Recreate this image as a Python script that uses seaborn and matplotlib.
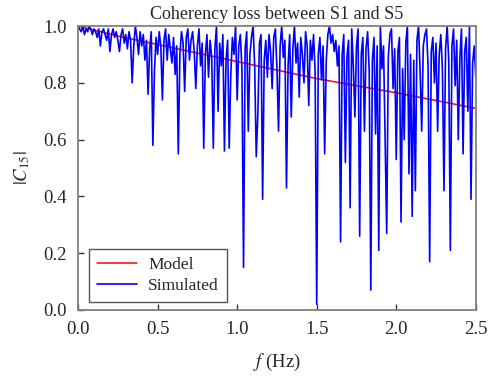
import numpy as np
import pandas as pd
import matplotlib
matplotlib.use("Agg")
import matplotlib.pyplot as plt
import seaborn as sns

# model coherency, read every 0.25 Hz
model_f = [0.0, 0.25, 0.5, 0.75, 1.0, 1.25, 1.5, 1.75, 2.0, 2.25, 2.5]
model_c = [1.0, 0.965, 0.935, 0.905, 0.875, 0.845, 0.815, 0.79, 0.765, 0.738, 0.71]

# simulated coherency, read every 0.01 Hz from 0 to 2.5 Hz
sim_c = [
    1.00, 0.99, 0.98, 1.00, 0.97, 0.99, 0.98, 1.00, 0.99, 0.97,
    0.99, 0.98, 0.96, 0.99, 0.93, 0.98, 0.99, 0.97, 0.95, 0.99,
    0.91, 0.97, 0.99, 0.96, 0.98, 0.95, 0.91, 0.97, 0.99, 0.94,
    0.97, 0.92, 0.98, 0.95, 0.80, 0.93, 1.00, 0.96, 0.90, 0.98,
    0.93, 0.97, 0.88, 0.95, 0.76, 0.92, 0.98, 0.58, 0.84, 0.96,
    0.90, 0.98, 0.93, 0.74, 0.95, 0.99, 0.88, 0.97, 0.92, 0.87,
    0.96, 0.83, 0.93, 0.55, 0.90, 0.98, 0.94, 0.77, 0.96, 0.99,
    0.88, 0.95, 0.98, 0.91, 0.78, 0.93, 0.99, 0.86, 0.94, 0.57,
    0.90, 0.97, 0.82, 0.95, 0.89, 0.57, 0.92, 1.00, 0.70, 0.94,
    0.86, 0.97, 0.56, 0.88, 0.95, 0.57, 0.83, 0.96, 0.90, 1.00,
    0.74, 0.93, 0.97, 0.85, 0.15, 0.92, 0.98, 0.63, 0.90, 0.96,
    1.00, 0.86, 0.54, 0.69, 0.94, 0.97, 0.39, 0.88, 0.95, 0.82,
    0.97, 0.91, 0.78, 0.96, 0.99, 0.85, 0.63, 0.93, 1.00, 0.89,
    0.95, 0.43, 0.86, 0.97, 0.68, 0.92, 1.00, 0.87, 0.94, 0.75,
    0.96, 0.90, 0.80, 0.98, 0.93, 0.72, 0.95, 0.88, 0.97, 0.84,
    0.02, 0.90, 0.96, 0.81, 0.93, 0.55, 0.88, 0.97, 1.00, 0.94,
    0.97, 0.91, 0.95, 0.86, 0.93, 0.24, 0.90, 0.97, 0.52, 0.89,
    0.95, 0.36, 0.99, 0.86, 0.68, 0.93, 0.99, 0.26, 0.90, 0.96,
    0.63, 0.92, 0.98, 0.84, 0.07, 0.88, 0.96, 0.62, 0.93, 0.21,
    1.00, 0.85, 0.93, 0.60, 0.27, 0.89, 0.97, 0.99, 0.78, 0.92,
    0.53, 0.91, 0.96, 0.31, 0.85, 0.60, 0.94, 1.00, 0.48, 0.90,
    0.33, 0.88, 0.42, 0.95, 1.00, 0.84, 0.63, 0.93, 0.97, 0.99,
    0.86, 0.17, 0.91, 0.96, 0.80, 0.94, 0.63, 0.90, 0.97, 0.85,
    0.42, 0.92, 1.00, 0.88, 0.21, 0.93, 0.99, 0.79, 0.95, 0.60,
    0.89, 0.99, 0.55, 0.91, 0.96, 0.70, 1.00, 0.39, 0.87, 0.93,
    0.82,
]
sim_f = [i / 100 for i in range(len(sim_c))]

model_df = pd.DataFrame({'f': model_f, 'C': model_c})
sim_df = pd.DataFrame({'f': sim_f, 'C': sim_c})

sns.set_style("white")
plt.rcParams['font.family'] = ['Liberation Serif', 'DejaVu Serif']
plt.rcParams['mathtext.fontset'] = 'stix'

fig = plt.figure(figsize=(4.88, 3.78), dpi=100, facecolor='white')
ax = fig.add_axes([0.160, 0.180, 0.815, 0.751])

sns.lineplot(data=model_df, x='f', y='C', color='#ff0000', lw=1.1, label='Model', ax=ax)
sns.lineplot(data=sim_df, x='f', y='C', color='#0000ff', lw=1.2, label='Simulated', ax=ax)

ax.set_xlim(0, 2.5)
ax.set_ylim(0, 1.0)
ax.set_xticks([0, 0.5, 1.0, 1.5, 2.0, 2.5])
ax.set_yticks([0, 0.2, 0.4, 0.6, 0.8, 1.0])
ax.xaxis.set_major_formatter(matplotlib.ticker.FormatStrFormatter('%.1f'))
ax.yaxis.set_major_formatter(matplotlib.ticker.FormatStrFormatter('%.1f'))
ax.tick_params(bottom=True, left=True, direction='in', length=4, width=1,
               color='#333333', labelsize=13.5, pad=8)

for s in ax.spines.values():
    s.set_color('#808080')
    s.set_linewidth(1.3)

ax.set_title('Coherency loss between S1 and S5', fontsize=13, pad=5)
ax.set_xlabel(r'$f$ (Hz)', fontsize=13.5, labelpad=10)
ax.set_ylabel(r'$|C_{15}|$', fontsize=13.5, labelpad=8)

leg = ax.legend(loc='lower left', fontsize=12.5, fancybox=False, framealpha=1,
                edgecolor='#555555', borderpad=0.45, handlelength=2.3,
                handletextpad=0.65, labelspacing=0.3, borderaxespad=0,
                bbox_to_anchor=(0.028, 0.028))
leg.get_frame().set_linewidth(1.0)

plt.savefig('out.png', dpi=100, facecolor='white')
